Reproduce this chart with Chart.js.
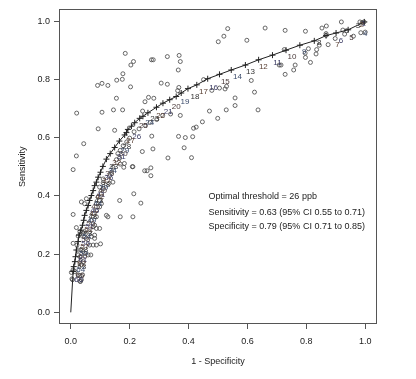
<!DOCTYPE html>
<html><head><meta charset="utf-8">
<script src="https://cdn.jsdelivr.net/npm/chart.js@4"></script>
<style>html,body{margin:0;padding:0;background:#fff;}canvas{display:block;}</style>
</head><body>
<canvas id="c" width="416" height="379"></canvas>
<script>
// ---- data ----
const studyX = [
 0.533,0.520,0.501,0.185,0.274,0.280,0.328,0.368,0.372,0.213,0.204,0.365,0.177,0.156,0.091,0.106,0.126,0.175,0.203,0.307,
 0.328,0.367,0.363,0.155,0.264,0.282,0.252,0.020,0.106,0.145,0.176,0.244,0.339,0.372,0.471,0.499,0.528,0.558,0.558,0.093,
 0.149,0.417,0.426,0.447,0.366,0.389,0.414,0.044,0.275,0.385,0.243,0.279,0.019,0.330,0.410,0.182,0.211,0.272,0.251,0.259,
 0.272,0.168,0.008,0.451,0.479,0.505,0.529,0.524,
 0.660,0.728,0.797,0.853,0.868,0.919,0.598,0.924,0.937,0.867,0.867,0.982,0.990,0.996,0.898,0.930,0.725,0.874,0.844,0.835,
 0.833,0.814,0.807,0.796,0.797,0.762,0.757,0.728,0.708,0.714,0.613,0.624,0.636,0.985,1.000,0.960,
 0.008,0.021,0.053,0.070,0.081,0.081,0.064,0.076,0.087,0.101,0.031,0.042,0.025,0.025,0.031,0.042,0.047,0.059,0.068,0.031,
 0.042,0.036,0.008,0.014,0.025,0.031,0.040,0.036,0.006,0.031,0.002,0.004,0.033,
 0.025,0.036,0.047,0.064,0.081,0.070,0.087,0.076,0.098,0.087,0.087,0.104,0.098,0.093,0.104,0.110,0.098,0.110,0.110,0.143,
 0.130,0.132,0.138,0.143,0.155,0.166,0.180,0.209,0.053,0.036,0.047,0.121,0.126,0.168,0.211,0.008,0.019,0.076,0.087,0.098,
 0.214,0.166,0.238,
 0.215,0.232,0.252,0.270,0.292,0.312,0.200,0.190,0.178,0.168,0.160
];
const studyY = [
 0.974,0.948,0.929,0.889,0.867,0.867,0.878,0.882,0.861,0.861,0.849,0.832,0.819,0.797,0.779,0.786,0.779,0.800,0.774,0.787,
 0.783,0.772,0.761,0.735,0.738,0.735,0.723,0.684,0.687,0.695,0.695,0.691,0.681,0.676,0.691,0.666,0.695,0.736,0.710,0.630,
 0.625,0.632,0.636,0.654,0.604,0.600,0.603,0.579,0.605,0.565,0.552,0.561,0.537,0.530,0.531,0.511,0.500,0.496,0.486,0.486,
 0.469,0.509,0.490,0.799,0.762,0.770,0.776,0.767,
 0.976,0.968,0.965,0.976,0.983,0.997,0.934,0.969,0.967,0.957,0.951,0.997,0.995,0.997,0.940,0.955,0.902,0.919,0.917,0.902,
 0.887,0.858,0.905,0.890,0.875,0.849,0.832,0.817,0.849,0.849,0.796,0.756,0.695,0.960,0.962,0.948,
 0.237,0.231,0.254,0.260,0.265,0.254,0.231,0.231,0.231,0.235,0.277,0.271,0.214,0.197,0.191,0.209,0.203,0.197,0.197,0.174,
 0.174,0.163,0.146,0.140,0.129,0.126,0.129,0.112,0.112,0.107,0.137,0.115,0.106,
 0.262,0.265,0.277,0.277,0.299,0.316,0.328,0.339,0.362,0.350,0.373,0.373,0.384,0.396,0.407,0.424,0.430,0.445,0.458,0.447,
 0.443,0.469,0.481,0.498,0.524,0.530,0.498,0.500,0.390,0.379,0.373,0.333,0.328,0.328,0.328,0.336,0.291,0.294,0.288,0.288,
 0.407,0.384,0.375,
 0.620,0.630,0.642,0.652,0.662,0.676,0.598,0.585,0.572,0.556,0.545
];
const curveX = [0,0.008,0.010,0.014,0.016,0.019,0.025,0.028,0.034,0.040,0.044,0.047,0.053,0.059,0.064,0.070,0.076,0.081,0.087,0.093,
 0.101,0.109,0.121,0.134,0.149,0.165,0.183,0.189,0.194,0.206,0.217,0.234,0.245,0.262,0.291,0.313,0.336,0.358,0.375,0.398,
 0.428,0.465,0.505,0.545,0.593,0.638,0.685,0.731,0.778,0.827,0.867,0.901,0.942,0.997];
const curveY = [0,0.140,0.157,0.174,0.191,0.214,0.243,0.265,0.282,0.299,0.316,0.333,0.350,0.367,0.384,0.401,0.418,0.435,0.447,0.464,
 0.481,0.501,0.526,0.545,0.566,0.588,0.609,0.617,0.628,0.639,0.651,0.666,0.673,0.685,0.704,0.718,0.730,0.741,0.753,0.768,
 0.781,0.802,0.817,0.832,0.849,0.867,0.883,0.900,0.917,0.932,0.950,0.959,0.970,0.997];
const thresholdLabels = [1,2,3,4,5,6,7,8,9,10,11,12,13,14,15,16,17,18,19,20,21,22,23,24,25,26,27,28,29,30,31,
 32,33,34,35,36,37,38,39,40,41,42,43,44,45,46,47,48,49,50,51,52,53,54,55,56,57,58,59,60,61,62,63,64,65,66];
const labelX = [0.995,0.988,0.975,1.000,0.953,0.918,0.906,0.844,0.793,0.751,0.702,0.654,0.610,0.566,0.525,0.485,0.451,0.422,0.388,0.358,
 0.331,0.305,0.285,0.268,0.247,0.224,0.203,0.190,0.183,0.178,0.171,
 0.156,0.146,0.142,0.132,0.129,0.122,0.119,0.112,0.108,0.102,0.098,0.095,0.092,0.085,0.081,0.078,0.075,0.071,0.068,0.064,
 0.061,0.058,0.054,0.051,0.051,0.047,0.044,0.044,0.041,0.041,0.037,0.037,0.034,0.031,0.027];
const labelY = [0.992,0.986,0.984,0.956,0.943,0.933,0.919,0.925,0.895,0.878,0.857,0.842,0.827,0.808,0.791,0.772,0.756,0.740,0.724,0.707,
 0.690,0.675,0.663,0.651,0.641,0.602,0.588,0.568,0.554,0.546,0.535,
 0.514,0.500,0.486,0.476,0.463,0.452,0.439,0.429,0.418,0.405,0.395,0.384,0.371,0.361,0.350,0.337,0.327,0.316,0.303,0.293,
 0.282,0.269,0.259,0.248,0.235,0.224,0.214,0.201,0.190,0.180,0.167,0.156,0.146,0.126,0.112];
const xTicks = [0.0,0.2,0.4,0.6,0.8,1.0];
const yTicks = [0.0,0.2,0.4,0.6,0.8,1.0];
const annotationLines = ["Optimal threshold = 26 ppb","Sensitivity = 0.63 (95% CI 0.55 to 0.71)","Specificity = 0.79 (95% CI 0.71 to 0.85)"];
const annotationX = 0.468;
const annotationY = [0.398,0.344,0.293];

// ---- styling ----
const FONT = '"Liberation Sans", Arial, sans-serif';
const labelColors = ['#3c3c64','#5a4034','#333','#3a4a6a','#4a3a3a'];

const studyPts = studyX.map((x,i)=>({x, y: studyY[i]}));
const curvePts = curveX.map((x,i)=>({x, y: curveY[i]}));

const overlay = {
  id: 'overlay',
  afterDatasetsDraw(chart) {
    const {ctx, chartArea: a, scales: {x, y}} = chart;
    ctx.save();
    ctx.beginPath(); ctx.rect(a.left, a.top, a.right - a.left, a.bottom - a.top); ctx.clip();
    ctx.font = '8px ' + FONT;
    ctx.textAlign = 'center'; ctx.textBaseline = 'middle';
    thresholdLabels.forEach((t, i) => {
      ctx.fillStyle = labelColors[i % labelColors.length];
      ctx.fillText(String(t), x.getPixelForValue(labelX[i]), y.getPixelForValue(labelY[i]));
    });
    ctx.restore();
    ctx.save();
    ctx.font = '9px ' + FONT; ctx.fillStyle = '#222';
    ctx.textAlign = 'left'; ctx.textBaseline = 'middle';
    annotationLines.forEach((s, i) => ctx.fillText(s, x.getPixelForValue(annotationX), y.getPixelForValue(annotationY[i])));
    ctx.strokeStyle = '#555'; ctx.lineWidth = 1;
    ctx.strokeRect(Math.round(a.left) + 0.5, Math.round(a.top) + 0.5, Math.round(a.right - a.left) - 1, Math.round(a.bottom - a.top) - 1);
    ctx.restore();
  }
};

new Chart(document.getElementById('c'), {
  type: 'scatter',
  data: { datasets: [
    { label: 'curve', data: curvePts, showLine: true, tension: 0, borderColor: '#222', borderWidth: 1,
      pointStyle: 'cross', pointRadius: ctx => ctx.dataIndex === 0 ? 0 : 3, pointBorderColor: '#222', pointBorderWidth: 1,
      pointBackgroundColor: '#222' },
    { label: 'studies', data: studyPts, showLine: false, pointStyle: 'circle', pointRadius: 2,
      pointBorderColor: '#444', pointBorderWidth: 0.8, pointBackgroundColor: 'rgba(0,0,0,0)' }
  ]},
  options: {
    responsive: false, animation: false, devicePixelRatio: 1,
    layout: { padding: { left: 0, right: 39, top: 7, bottom: 0 } },
    plugins: { legend: { display: false }, tooltip: { enabled: false } },
    scales: {
      x: { type: 'linear', min: -0.04, max: 1.04,
        afterBuildTicks: s => { s.ticks = xTicks.map(v => ({value: v})); },
        afterFit: s => { s.height = 55; },
        grid: { drawOnChartArea: false, drawTicks: true, tickLength: 5, color: '#555', lineWidth: 1 },
        border: { display: false },
        ticks: { padding: 7, color: '#222', font: { family: FONT, size: 9 }, maxRotation: 0, autoSkip: false,
          callback: v => Number(v).toFixed(1) },
        title: { display: true, text: '1 - Specificity', color: '#222', font: { family: FONT, size: 9 }, padding: { top: 0, bottom: 11.6 } }
      },
      y: { type: 'linear', min: -0.04, max: 1.04,
        afterBuildTicks: s => { s.ticks = yTicks.map(v => ({value: v})); },
        afterFit: s => { s.width = 59; },
        grid: { drawOnChartArea: false, drawTicks: true, tickLength: 5, color: '#555', lineWidth: 1 },
        border: { display: false },
        ticks: { padding: 4, color: '#222', font: { family: FONT, size: 9 }, autoSkip: false,
          callback: v => Number(v).toFixed(1) },
        title: { display: true, text: 'Sensitivity', color: '#222', font: { family: FONT, size: 9 }, padding: { top: 17.6, bottom: 0 } }
      }
    }
  },
  plugins: [overlay]
});
</script>
</body></html>
